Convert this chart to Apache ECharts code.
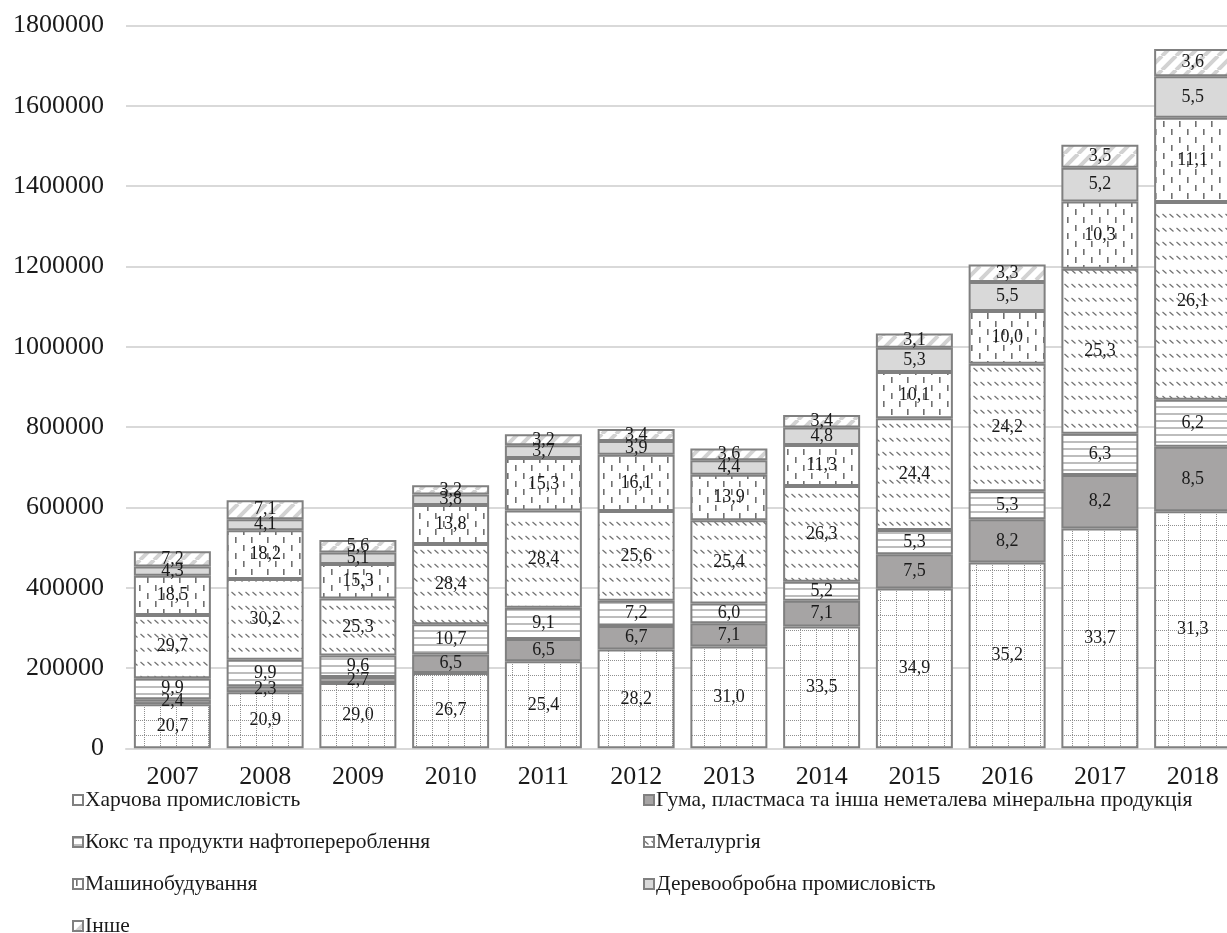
<!DOCTYPE html>
<html>
<head>
<meta charset="utf-8">
<script src="https://cdn.jsdelivr.net/npm/echarts@6/dist/echarts.min.js"></script>
<style>
html,body{margin:0;padding:0;background:#fff;overflow:hidden;}
#chart{width:1245px;height:933px;}
</style>
</head>
<body>
<div id="chart"></div>
<script>
// ---------------- data ----------------
const years = ['2007','2008','2009','2010','2011','2012','2013','2014','2015','2016','2017','2018'];
const seriesNames = [
  'Харчова промисловість',
  'Гума, пластмаса та інша неметалева мінеральна продукція',
  'Кокс та продукти нафтоперероблення',
  'Металургія',
  'Машинобудування',
  'Деревообробна промисловість',
  'Інше'
];
// segment sizes
const food    = [109600,139300,162500,187800,216800,246100,253400,303500,397900,462600,547600,590700];
const rubber  = [12700,15300,15100,45700,55500,58500,58000,64300,85500,107800,133200,160400];
const coke    = [52400,66000,53800,75300,77700,62800,49000,47100,60400,69600,102400,117000];
const metal   = [157300,201300,141800,199800,242500,223400,207600,238300,278200,318000,411100,492600];
const machine = [98000,121300,85800,97100,130600,140500,113600,102400,115200,131400,167400,209500];
const wood    = [22800,27300,28600,26700,31600,34000,36000,43500,60400,72300,84500,103800];
const other   = [38100,47300,31400,22500,27300,29700,29400,30800,35300,43400,56900,67900];
// percentage labels shown inside the segments
const foodPct    = [20.7,20.9,29.0,26.7,25.4,28.2,31.0,33.5,34.9,35.2,33.7,31.3];
const rubberPct  = [2.4,2.3,2.7,6.5,6.5,6.7,7.1,7.1,7.5,8.2,8.2,8.5];
const cokePct    = [9.9,9.9,9.6,10.7,9.1,7.2,6.0,5.2,5.3,5.3,6.3,6.2];
const metalPct   = [29.7,30.2,25.3,28.4,28.4,25.6,25.4,26.3,24.4,24.2,25.3,26.1];
const machinePct = [18.5,18.2,15.3,13.8,15.3,16.1,13.9,11.3,10.1,10.0,10.3,11.1];
const woodPct    = [4.3,4.1,5.1,3.8,3.7,3.9,4.4,4.8,5.3,5.5,5.2,5.5];
const otherPct   = [7.2,7.1,5.6,3.2,3.2,3.4,3.6,3.4,3.1,3.3,3.5,3.6];

const yMin = 0, yMax = 1800000, yStep = 200000;

// ---------------- patterns ----------------
function pat(w, h, draw) {
  const c = document.createElement('canvas');
  c.width = w; c.height = h;
  const g = c.getContext('2d');
  g.fillStyle = '#ffffff';
  g.fillRect(0, 0, w, h);
  draw(g);
  return { image: c, repeat: 'repeat' };
}
const foodPat = pat(16, 15, g => {
  g.fillStyle = '#8f8f8f';
  for (let x = 0; x < 16; x += 2) g.fillRect(x, 0, 1, 1);
  for (let y = 0; y < 15; y += 2) g.fillRect(0, y, 1, 1);
});
const cokePat = pat(8, 7, g => {
  g.fillStyle = '#bdbdbd';
  g.fillRect(0, 0, 8, 2);
});
const metalPat = pat(7, 14, g => {
  g.strokeStyle = '#707070';
  g.lineWidth = 1.2;
  g.beginPath();
  g.moveTo(0.5, 4); g.lineTo(4.5, 7.5);
  g.stroke();
});
const machinePat = pat(16, 16, g => {
  g.fillStyle = '#707070';
  g.fillRect(3, 1, 1.6, 6);
  g.fillRect(11, 9, 1.6, 6);
});
const otherPat = pat(14, 14, g => {
  g.strokeStyle = '#d2d2d2';
  g.lineWidth = 4;
  g.beginPath();
  for (const o of [-14, 0, 14]) { g.moveTo(o, 14); g.lineTo(o + 14, 0); }
  g.stroke();
});

const colors = [foodPat, '#a6a4a4', cokePat, metalPat, machinePat, '#d9d9d9', otherPat];
const values = [food, rubber, coke, metal, machine, wood, other];
const pcts = [foodPct, rubberPct, cokePct, metalPct, machinePct, woodPct, otherPct];

const FONT = 'Liberation Serif';
function fmt(v) { return v.toFixed(1).replace('.', ','); }

const series = seriesNames.map((name, i) => ({
  name: name,
  type: 'bar',
  stack: 'total',
  barWidth: 77,
  data: values[i],
  itemStyle: { color: colors[i], borderColor: '#808080', borderWidth: 2 },
  label: {
    show: true,
    position: 'inside',
    formatter: p => fmt(pcts[i][p.dataIndex]),
    fontFamily: FONT,
    fontSize: 18,
    color: '#1a1a1a'
  },
  emphasis: { disabled: true }
}));

// legend layout: two columns, four rows
const legendCells = [
  { idx: 0, left: 72, row: 0 }, { idx: 1, left: 643, row: 0 },
  { idx: 2, left: 72, row: 1 }, { idx: 3, left: 643, row: 1 },
  { idx: 4, left: 72, row: 2 }, { idx: 5, left: 643, row: 2 },
  { idx: 6, left: 72, row: 3 }
];
const legends = legendCells.map(c => ({
  left: c.left, top: 789 + c.row * 42, padding: 0,
  orient: 'horizontal', icon: 'rect', itemWidth: 10, itemHeight: 10,
  data: [seriesNames[c.idx]],
  textStyle: { fontFamily: FONT, fontSize: 21.5, color: '#1a1a1a', padding: [0,0,0,-3] },
  selectedMode: false
}));

const chart = echarts.init(document.getElementById('chart'), null, { renderer: 'canvas' });
chart.setOption({
  animation: false,
  backgroundColor: '#ffffff',
  textStyle: { fontFamily: FONT },
  grid: { left: 126, top: 25.6, width: 1113, height: 722.7, containLabel: false },
  xAxis: {
    type: 'category',
    data: years,
    axisLine: { lineStyle: { color: '#d9d9d9', width: 2 } },
    axisTick: { show: false },
    axisLabel: { fontFamily: FONT, fontSize: 26, color: '#1a1a1a', margin: 16 }
  },
  yAxis: {
    type: 'value',
    min: yMin, max: yMax, interval: yStep,
    axisLine: { show: false },
    axisTick: { show: false },
    splitLine: { lineStyle: { color: '#d9d9d9', width: 2 } },
    axisLabel: { fontFamily: FONT, fontSize: 26, color: '#1a1a1a', margin: 22, formatter: v => String(v) }
  },
  legend: legends,
  series: series
});
</script>
</body>
</html>
